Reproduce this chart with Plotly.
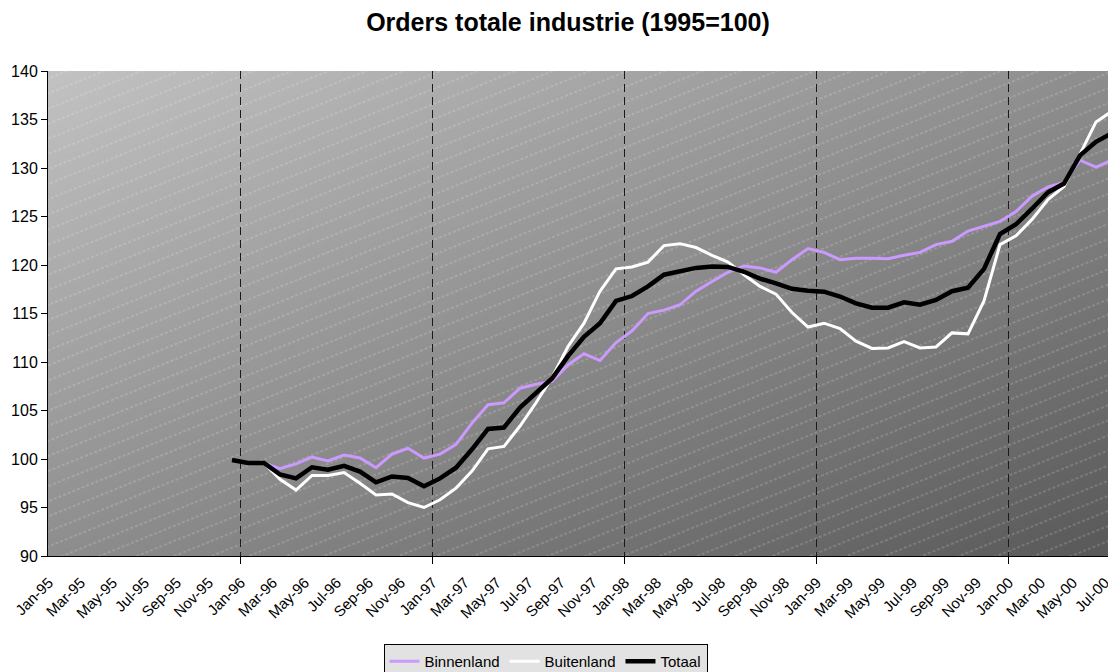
import base64
import plotly.graph_objects as go

# ---- categories -------------------------------------------------------
month_names = ["Jan", "Feb", "Mar", "Apr", "May", "Jun",
               "Jul", "Aug", "Sep", "Oct", "Nov", "Dec"]
months = [f"{m}-{y % 100:02d}" for y in range(95, 101) for m in month_names][:67]  # Jan-95 .. Jul-00

# ---- series -----------------------------------------------------------
totaal_start = "Dec-95"
totaal = [99.9,
          99.6, 99.6, 98.4, 98.0, 99.15, 98.9, 99.3, 98.7, 97.6, 98.2, 98.05, 97.2,
          98.0, 99.1, 101.0, 103.1, 103.25, 105.3, 106.8, 108.3, 110.6, 112.6, 114.0, 116.3,
          116.8, 117.8, 119.0, 119.35, 119.7, 119.85, 119.8, 119.3, 118.6, 118.1, 117.55, 117.35,
          117.25, 116.75, 116.05, 115.6, 115.6, 116.15, 115.9, 116.4, 117.3, 117.65, 119.6, 123.2,
          124.2, 125.8, 127.5, 128.4, 131.3, 132.7, 133.6]

binnen_start = "Feb-96"
binnenland = [99.6, 99.0, 99.5, 100.2, 99.8, 100.4, 100.1, 99.1, 100.5, 101.1, 100.1,
              100.5, 101.5, 103.7, 105.6, 105.8, 107.3, 107.7, 108.0, 109.7, 110.85, 110.15, 112.0,
              113.2, 115.0, 115.35, 115.9, 117.3, 118.3, 119.25, 119.9, 119.7, 119.25, 120.55, 121.7,
              121.3, 120.55, 120.7, 120.7, 120.65, 121.0, 121.3, 122.1, 122.45, 123.5, 124.0, 124.5,
              125.5, 127.1, 128.05, 128.5, 130.8, 130.1, 130.8]

buiten_start = "Feb-96"
buitenland = [99.6, 97.9, 96.8, 98.3, 98.3, 98.6, 97.5, 96.3, 96.4, 95.5, 95.0,
              95.8, 97.0, 98.75, 101.05, 101.3, 103.4, 105.8, 108.4, 111.6, 114.0, 117.3, 119.6,
              119.8, 120.3, 122.0, 122.2, 121.8, 121.0, 120.3, 119.0, 117.8, 117.0, 115.1, 113.6,
              114.0, 113.45, 112.15, 111.4, 111.45, 112.1, 111.45, 111.55, 113.0, 112.9, 116.3, 122.1,
              123.0, 124.7, 126.75, 128.1, 131.5, 134.75, 135.85]

y_ticks = [90, 95, 100, 105, 110, 115, 120, 125, 130, 135, 140]


def xs(start, vals):
    s = months.index(start)
    return list(range(s, s + len(vals)))


# ---- figure geometry (the page body adds an 8px margin top/left) -------
FIG_W, FIG_H = 1108, 664
M_L, M_T, PLOT_W, PLOT_H = 40, 63, 1068, 485
M_B = FIG_H - M_T - PLOT_H

# ---- background (gradient + diagonal dotted hatching) -----------------
svg = f'''<svg xmlns="http://www.w3.org/2000/svg" width="{PLOT_W}" height="{PLOT_H}" viewBox="0 0 {PLOT_W} {PLOT_H}" preserveAspectRatio="none">
<defs>
<linearGradient id="g" x1="0" y1="0" x2="1" y2="1">
<stop offset="0" stop-color="#c2c2c2"/>
<stop offset="1" stop-color="#585858"/>
</linearGradient>
<pattern id="p" x="0" y="0" width="600" height="14" patternUnits="userSpaceOnUse" patternTransform="rotate(-22)">
<line x1="0" y1="7" x2="600" y2="7" stroke="#ffffff" stroke-opacity="0.38" stroke-width="0.8" stroke-dasharray="3 2"/>
</pattern>
</defs>
<rect x="0" y="0" width="{PLOT_W}" height="{PLOT_H}" fill="url(#g)"/>
<rect x="0" y="0" width="{PLOT_W}" height="{PLOT_H}" fill="url(#p)"/>
</svg>'''
bg_uri = "data:image/svg+xml;base64," + base64.b64encode(svg.encode()).decode()

FONT = "Liberation Sans, Arial, sans-serif"

fig = go.Figure()
fig.add_trace(go.Scatter(x=xs(binnen_start, binnenland), y=binnenland, name="Binnenland",
                         mode="lines", line=dict(color="#cc99ff", width=3)))
fig.add_trace(go.Scatter(x=xs(buiten_start, buitenland), y=buitenland, name="Buitenland",
                         mode="lines", line=dict(color="#ffffff", width=3)))
fig.add_trace(go.Scatter(x=xs(totaal_start, totaal), y=totaal, name="Totaal",
                         mode="lines", line=dict(color="#000000", width=4.5)))

label_pos = list(range(0, len(months), 2))
year_bounds = [i - 0.5 for i, m in enumerate(months) if m.startswith("Jan") and i > 0]

fig.update_layout(
    width=FIG_W, height=FIG_H,
    margin=dict(l=M_L, r=0, t=M_T, b=M_B, autoexpand=False),
    paper_bgcolor="white",
    plot_bgcolor="rgba(0,0,0,0)",
    font=dict(family=FONT, color="black"),
    title=dict(text="<b>Orders totale industrie (1995=100)</b>", x=560 / FIG_W, xanchor="center",
               y=1 - 14 / FIG_H, yanchor="middle", font=dict(size=25, family=FONT)),
    images=[dict(source=bg_uri, xref="paper", yref="paper", x=0, y=1, sizex=1, sizey=1,
                 xanchor="left", yanchor="top", sizing="stretch", layer="below")],
    xaxis=dict(range=[-0.5, 66.25], tickmode="array", tickvals=[i - 0.45 for i in label_pos],
               ticktext=[months[i] for i in label_pos], tickangle=-45, automargin=False,
               tickfont=dict(size=15, family=FONT), ticks="", ticklabelstandoff=11,
               showline=True, linecolor="black", linewidth=1, showgrid=False, zeroline=False,
               minor=dict(tickmode="array", tickvals=year_bounds, ticks="outside", ticklen=7,
                          tickcolor="black", showgrid=True, gridcolor="#1a1a1a",
                          griddash="8px,5px", gridwidth=1)),
    yaxis=dict(range=[90, 140], tickmode="array", tickvals=y_ticks, ticks="outside", ticklen=6,
               tickcolor="black", tickfont=dict(size=16, family=FONT), automargin=False,
               showline=True, linecolor="black", linewidth=1, showgrid=False, zeroline=False),
    legend=dict(orientation="h", x=(545.5 - 8 - M_L) / PLOT_W, xanchor="center",
                y=-(636 - M_T - PLOT_H) / PLOT_H, yanchor="top",
                bgcolor="#e2e2e2", bordercolor="black", borderwidth=1,
                font=dict(size=15, family=FONT), itemwidth=30, tracegroupgap=0),
    showlegend=True,
)

fig.write_html("out.html")
